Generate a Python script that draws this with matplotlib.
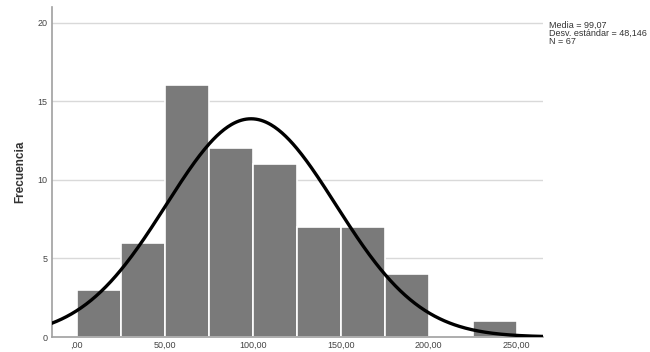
import numpy as np
import matplotlib
matplotlib.use('Agg')
import matplotlib.pyplot as plt

plt.rcParams['font.family'] = ['Liberation Sans', 'DejaVu Sans']

# histogram data (bin edges every 25)
bin_edges = [0, 25, 50, 75, 100, 125, 150, 175, 200, 225, 250]
counts = [3, 6, 16, 12, 11, 7, 7, 4, 0, 1]
mean_val = 99.07
sd_val = 48.146
n_val = 67
xtick_vals = [0, 50, 100, 150, 200, 250]
xtick_labels = [',00', '50,00', '100,00', '150,00', '200,00', '250,00']
ytick_vals = [0, 5, 10, 15, 20]

fig = plt.figure(figsize=(6.5, 3.52), dpi=100)
ax = fig.add_axes([0.0795, 0.0426, 0.756, 0.938])

for y in ytick_vals[1:]:
    ax.axhline(y, color='#d9d9d9', lw=1.0, zorder=0)

width = bin_edges[1] - bin_edges[0]
ax.bar(bin_edges[:-1], counts, width=width, align='edge',
       color='#7a7a7a', edgecolor='white', linewidth=1.2, zorder=2)

# fitted normal curve from the stated mean/sd
x_lo, x_hi = -14.2, 265
xs = np.linspace(x_lo, x_hi, 400)
ys = n_val * width * np.exp(-0.5 * ((xs - mean_val) / sd_val) ** 2) / (sd_val * np.sqrt(2 * np.pi))
ax.plot(xs, ys, color='black', lw=2.4, zorder=3)

ax.set_xlim(x_lo, x_hi)
ax.set_ylim(0, 21)
ax.set_xticks(xtick_vals)
ax.set_xticklabels(xtick_labels)
ax.set_yticks(ytick_vals)
ax.tick_params(axis='both', length=0, labelsize=6.5, colors='#444444', pad=3)
for s in ['top', 'right']:
    ax.spines[s].set_visible(False)
for s in ['left', 'bottom']:
    ax.spines[s].set_color('#a0a0a0')
    ax.spines[s].set_linewidth(1.2)

ax.set_ylabel('Frecuencia', fontsize=8.5, fontweight='bold', color='#333333', labelpad=8)

fig.text(549 / 650, 1 - 21 / 352, 'Media = 99,07\nDesv. estándar = 48,146\nN = 67',
         fontsize=6.5, color='#333333', va='top', ha='left', linespacing=0.88)

fig.savefig('out.png', dpi=100)
